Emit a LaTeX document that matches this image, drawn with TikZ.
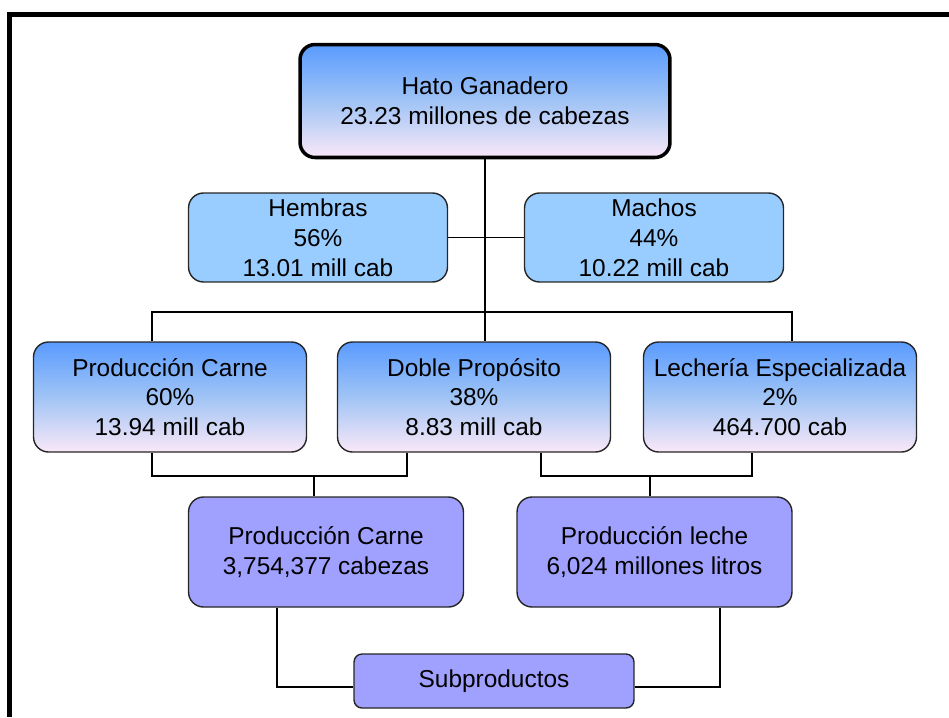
\documentclass[tikz,border=0pt]{standalone}
\usepackage{fontspec}
\setmainfont{Liberation Sans}
\usepackage{tikz}

\definecolor{gradtop}{RGB}{90,155,255}
\definecolor{gradmid}{RGB}{160,196,245}
\definecolor{gradbot}{RGB}{250,232,248}
\definecolor{flatblue}{RGB}{153,204,255}
\definecolor{prodviolet}{RGB}{160,160,255}

\begin{document}
\begin{tikzpicture}[
    x=0.02cm, y=-0.02cm,
    font=\fontsize{13.9}{17}\selectfont,
    base/.style={rectangle, draw=black!85, line width=0.8pt, align=center, inner sep=0pt, rounded corners=0.3cm},
    root/.style={base, draw=black, line width=2pt, top color=gradtop, bottom color=gradbot, middle color=gradmid, minimum width=7.4cm, minimum height=2.26cm},
    sexbox/.style={base, fill=flatblue, minimum width=5.18cm, minimum height=1.78cm},
    typebox/.style={base, top color=gradtop, bottom color=gradbot, middle color=gradmid, minimum width=5.46cm, minimum height=2.2cm},
    prodbox/.style={base, fill=prodviolet, minimum width=5.5cm, minimum height=2.2cm},
    subbox/.style={base, fill=prodviolet, rounded corners=0.16cm, minimum width=5.6cm, minimum height=1.08cm},
    link/.style={draw=black, line width=0.8pt},
    frame/.style={draw=black, line width=0.1cm}
  ]

    \useasboundingbox (0,0) rectangle (949,717);

    % Outer frame (top and left edges)
    \draw[frame] (9.5,717) -- (9.5,14.5) -- (949,14.5);

    % Top layer - whole herd
    \node[root] (hato) at (485,101) {Hato Ganadero\\23.23 millones de cabezas};

    % Second layer - by sex
    \node[sexbox] (hembras) at (318,237.5) {Hembras\\56\%\\13.01 mill cab};
    \node[sexbox] (machos) at (654,237.5) {Machos\\44\%\\10.22 mill cab};

    % Third layer - by purpose
    \node[typebox] (carne) at (170,397) {Producción Carne\\60\%\\13.94 mill cab};
    \node[typebox] (doble) at (474,397) {Doble Propósito\\38\%\\8.83 mill cab};
    \node[typebox] (lecheria) at (780,397) {Lechería Especializada\\2\%\\464.700 cab};

    % Fourth layer - production
    \node[prodbox] (prodcarne) at (326,552) {Producción Carne\\3,754,377 cabezas};
    \node[prodbox] (prodleche) at (654.5,552) {Producción leche\\6,024 millones litros};

    % Bottom layer - by-products
    \node[subbox] (subp) at (494,681) {Subproductos};

    % Junction points
    \coordinate (tleft) at (152,312);
    \coordinate (tright) at (792,312);
    \coordinate (cl) at (152,476);
    \coordinate (cr) at (407,476);
    \coordinate (cm) at (314,476);
    \coordinate (ll) at (541,476);
    \coordinate (lr) at (752,476);
    \coordinate (lm) at (650,476);
    \coordinate (sl) at (277,687);
    \coordinate (sr) at (720,687);

    % Connectors
    \draw[link] (hato.south) -- (hato.south |- doble.north);
    \draw[link] (hembras.east) -- (machos.west);
    \draw[link] (tleft |- carne.north) -- (tleft) -- (tright) -- (tright |- lecheria.north);
    \draw[link] (cl |- carne.south) -- (cl) -- (cr) -- (cr |- doble.south);
    \draw[link] (cm) -- (cm |- prodcarne.north);
    \draw[link] (ll |- doble.south) -- (ll) -- (lr) -- (lr |- lecheria.south);
    \draw[link] (lm) -- (lm |- prodleche.north);
    \draw[link] (sl |- prodcarne.south) -- (sl) -- (sl -| subp.west);
    \draw[link] (sr |- prodleche.south) -- (sr) -- (sr -| subp.east);

  \end{tikzpicture}
\end{document}
